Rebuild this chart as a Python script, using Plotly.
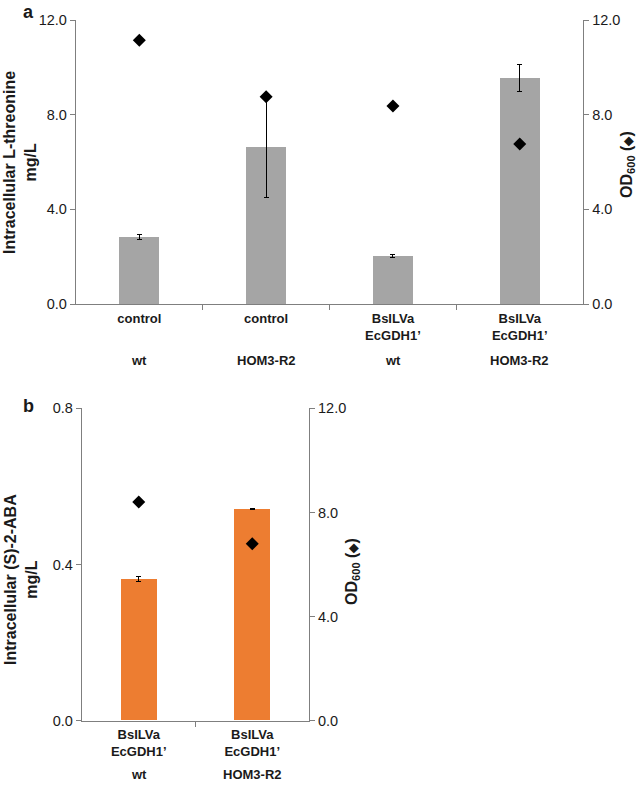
import plotly.graph_objects as go

# panel a
a_categories = ["control", "control", "BsILVa<br>EcGDH1’", "BsILVa<br>EcGDH1’"]
a_groups = ["wt", "HOM3-R2", "wt", "HOM3-R2"]
a_threonine = [2.84, 6.65, 2.03, 9.55]
a_threonine_err = [0.1, 2.15, 0.06, 0.57]
a_od600 = [11.15, 8.76, 8.37, 6.76]

# panel b
b_categories = ["BsILVa<br>EcGDH1’", "BsILVa<br>EcGDH1’"]
b_groups = ["wt", "HOM3-R2"]
b_aba = [0.363, 0.542]
b_aba_err = [0.006, 0.002]
b_od600 = [8.40, 6.80]

FONT = "Liberation Sans, Arial, sans-serif"
AXIS_COLOR = "#7f7f7f"
TEXT_COLOR = "#1a1a1a"

fig = go.Figure()

a_x = list(range(len(a_categories)))
b_x = list(range(len(b_categories)))

fig.add_trace(go.Bar(
    x=a_x, y=a_threonine, width=0.315,
    marker=dict(color="#a5a5a5", line=dict(width=0)),
    error_y=dict(type="data", array=a_threonine_err, color="black", thickness=1, width=2.5),
    xaxis="x", yaxis="y", showlegend=False
))
fig.add_trace(go.Scatter(
    x=a_x, y=a_od600, mode="markers",
    marker=dict(symbol="diamond", size=10, color="black"),
    xaxis="x", yaxis="y2", showlegend=False
))
fig.add_trace(go.Bar(
    x=b_x, y=b_aba, width=0.317,
    marker=dict(color="#ed7d31", line=dict(width=0)),
    error_y=dict(type="data", array=b_aba_err, color="black", thickness=1, width=2.5),
    xaxis="x2", yaxis="y3", showlegend=False
))
fig.add_trace(go.Scatter(
    x=b_x, y=b_od600, mode="markers",
    marker=dict(symbol="diamond", size=10, color="black"),
    xaxis="x2", yaxis="y4", showlegend=False
))

tick_font = dict(family=FONT, size=14.5, color=TEXT_COLOR)
cat_font = dict(family=FONT, size=13, color=TEXT_COLOR)

def x_axis(domain, anchor, cats):
    n = len(cats)
    return dict(
        domain=domain, anchor=anchor, range=[-0.5, n - 0.5],
        tickvals=list(range(n)), ticktext=[f"<b>{c}</b>" for c in cats],
        ticks="", tickfont=cat_font, showline=True, linecolor=AXIS_COLOR,
        linewidth=1.3, showgrid=False, zeroline=False, fixedrange=True,
        automargin=False, ticklabelstandoff=2,
        minor=dict(tickvals=[i + 0.5 for i in range(n - 1)], ticks="outside",
                   ticklen=5, tickcolor=AXIS_COLOR, tickwidth=1.3),
    )

def y_axis(domain, anchor, rng, dtick, side="left", overlaying=None):
    d = dict(
        domain=domain, anchor=anchor, range=rng, dtick=dtick, tickformat=".1f",
        side=side, ticks="outside", ticklen=5, tickcolor=AXIS_COLOR, tickwidth=1.3,
        tickfont=tick_font, showline=True, linecolor=AXIS_COLOR, linewidth=1.3,
        showgrid=False, zeroline=False, fixedrange=True, automargin=False,
    )
    if overlaying:
        d["overlaying"] = overlaying
    return d

fig.update_layout(
    width=638, height=788,
    margin=dict(l=0, r=0, t=0, b=0),
    paper_bgcolor="white", plot_bgcolor="white",
    bargap=0,
    xaxis=x_axis([0.119, 0.914], "y", a_categories),
    yaxis=y_axis([0.6142, 0.9746], "x", [0, 12], 4),
    yaxis2=y_axis([0.6142, 0.9746], "x", [0, 12], 4, side="right", overlaying="y"),
    xaxis2=x_axis([0.1285, 0.4843], "y3", b_categories),
    yaxis3=y_axis([0.0854, 0.4818], "x2", [0, 0.8], 0.4),
    yaxis4=y_axis([0.0854, 0.4818], "x2", [0, 12], 4, side="right", overlaying="y3"),
)


def note(x, y, text, font, angle=0, xref="paper"):
    return dict(x=x if xref != "paper" else x / 638, y=1 - y / 788, xref=xref, yref="paper",
                text=text, textangle=angle, showarrow=False, font=font,
                xanchor="center", yanchor="middle")


annotations = []
for i, g in enumerate(a_groups):
    annotations.append(note(i, 360, f"<b>{g}</b>", cat_font, xref="x"))
for i, g in enumerate(b_groups):
    annotations.append(note(i, 774, f"<b>{g}</b>", cat_font, xref="x2"))

title_font = dict(family=FONT, size=16, color=TEXT_COLOR)
od_title = "<b>OD<sub>600</sub> (<span style='font-size:12px'>◆</span>)</b>"
annotations += [
    note(20, 163, "<b>Intracellular L-threonine<br>mg/L</b>", title_font, angle=-90),
    note(627, 165, od_title, title_font, angle=-90),
    note(21, 580, "<b>Intracellular (S)-2-ABA<br>mg/L</b>", title_font, angle=-90),
    note(352, 572, od_title, title_font, angle=-90),
    note(28, 12, "<b>a</b>", dict(family=FONT, size=18, color=TEXT_COLOR)),
    note(28, 406, "<b>b</b>", dict(family=FONT, size=18, color=TEXT_COLOR)),
]
fig.update_layout(annotations=annotations)

# drop the browser's default 8px body margin so the figure sits at the page corner
fig.write_html("out.html", config={"displayModeBar": False},
               post_script="document.body.style.margin = '0';")
